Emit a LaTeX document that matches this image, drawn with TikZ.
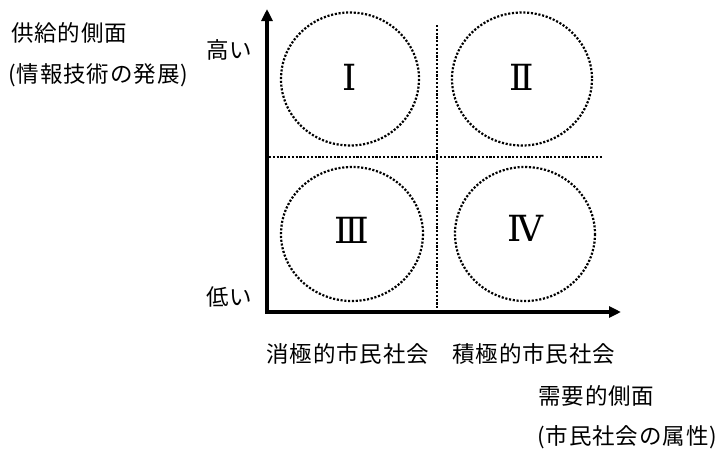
\documentclass[tikz,border=0pt]{standalone}
\usepackage{fontspec}
\newfontfamily\jp[LetterSpace=4]{Noto Sans CJK JP}
\newfontfamily\rom{DejaVu Serif}
\usetikzlibrary{arrows.meta}
\begin{document}
\begin{tikzpicture}[x=1pt,y=-1pt,
  lbl/.style={font=\jp\fontsize{22.5}{26}\selectfont, inner sep=0pt, anchor=west},
  num/.style={font=\rom\fontsize{36}{40}\selectfont, inner sep=0pt},
  axis/.style={line width=3.2pt, -{Triangle[length=12pt,width=11pt]}},
  dotline/.style={line width=2.2pt, dash pattern=on 2.1pt off 1.7pt},
  zone/.style={line width=2.2pt, dash pattern=on 2.1pt off 1.7pt}]
\useasboundingbox (0,0) rectangle (724,450);
\coordinate (Ytop) at (267,9);
\coordinate (Xend) at (621,312);
\draw[axis] (267,313.6) -- (Ytop);
\draw[axis] (265.4,312) -- (Xend);
\coordinate (V1) at (437,25);
\coordinate (V2) at (437,309);
\coordinate (H1) at (269,157);
\coordinate (H2) at (603,157);
\draw[dotline] (V1) -- (V2);
\draw[dotline] (H1) -- (H2);
\draw[zone] (350,79) ellipse [x radius=69, y radius=66.5];
\draw[zone] (522,79) ellipse [x radius=70, y radius=66.5];
\draw[zone] (352,234) ellipse [x radius=71, y radius=67];
\draw[zone] (525,234) ellipse [x radius=70, y radius=67];
\node[num] (n1) at (350,77) {Ⅰ};
\node[num] (n2) at (522,77) {Ⅱ};
\node[num] (n3) at (352,230) {Ⅲ};
\node[num] (n4) at (525,228) {Ⅳ};
\node[lbl] (s1) at (11,33) {供給的側面};
\node[lbl] (s2) at (8,75) {(情報技術の発展)};
\node[lbl] (hi) at (206,50) {高い};
\node[lbl] (lo) at (206,297) {低い};
\node[lbl] (neg) at (266,354) {消極的市民社会};
\node[lbl] (pos) at (452,354) {積極的市民社会};
\node[lbl] (d1) at (538,396) {需要的側面};
\node[lbl] (d2) at (537,437) {(市民社会の属性)};
\end{tikzpicture}
\end{document}
